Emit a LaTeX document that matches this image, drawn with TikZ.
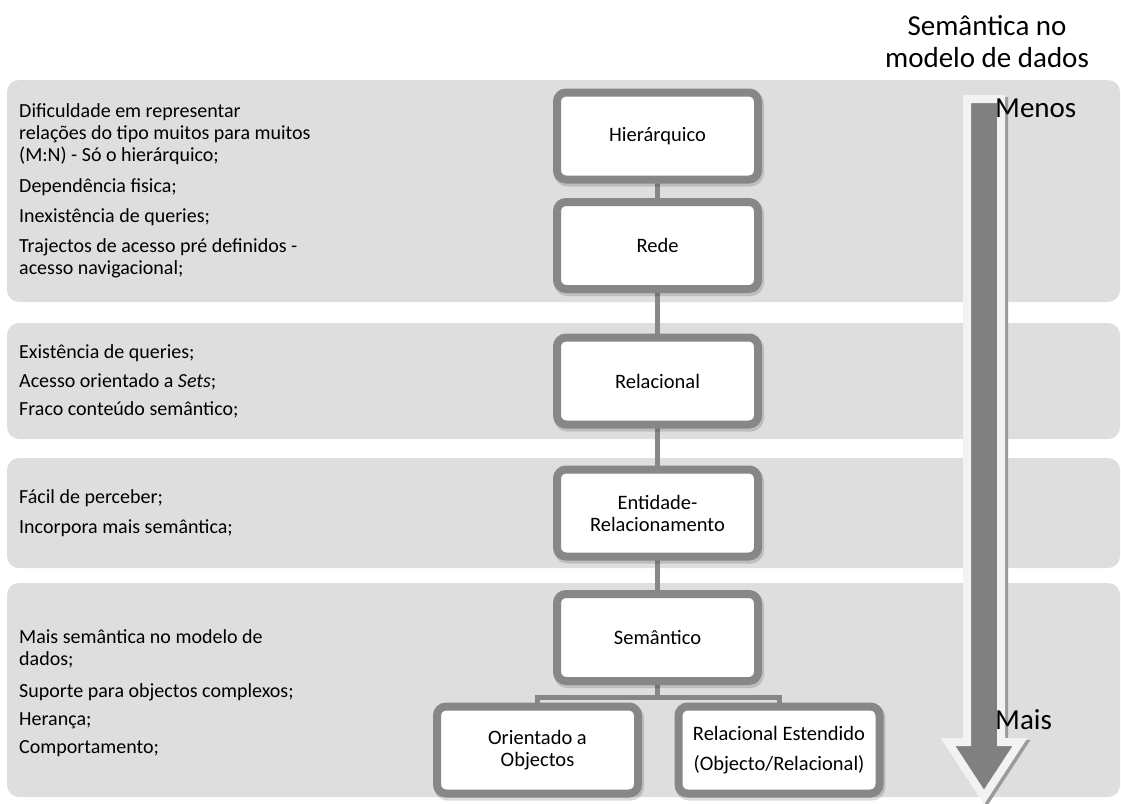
\documentclass[tikz,border=0pt]{standalone}
\usepackage{fontspec}
\setmainfont{Carlito}
\usetikzlibrary{shadows}
\definecolor{bandgray}{HTML}{DEDEDE}
\definecolor{boxgray}{HTML}{878787}
\definecolor{arrowdark}{HTML}{808080}
\definecolor{arrowlight}{HTML}{F2F2F2}
\definecolor{arrowshade}{HTML}{9A9A9A}
\pgfdeclarelayer{bands}
\pgfdeclarelayer{lines}
\pgfsetlayers{bands,lines,main}
\begin{document}
\begin{tikzpicture}[x=1pt,y=-1pt,
  band/.style={fill=bandgray, rounded corners=12pt},
  model/.style={draw=boxgray, line width=8pt, fill=white, rounded corners=9pt,
    minimum width=201pt, minimum height=87pt, align=center, inner sep=2pt,
    font=\fontsize{20.5}{22}\selectfont,
    drop shadow={shadow xshift=1.5pt, shadow yshift=-2.5pt, opacity=0.14, fill=black, draw=black, line width=9pt}},
  conn/.style={draw=boxgray, line width=5pt},
  note/.style={anchor=base west, inner sep=0pt, font=\fontsize{20}{22}\selectfont},
  big/.style={inner sep=0pt, font=\fontsize{29}{32}\selectfont}]
\useasboundingbox (0,0) rectangle (1121,803);

% bands
\begin{pgfonlayer}{bands}
\path[band] (7,80) rectangle (1120,302);
\path[band] (7,323) rectangle (1120,439);
\path[band] (7,458) rectangle (1120,568);
\path[band] (7,583) rectangle (1120,797);
\end{pgfonlayer}

% model boxes
\node[model] (hier) at (657.5,136) {Hierárquico};
\node[model] (rede) at (657.5,245.5) {Rede};
\node[model] (rel) at (657.5,381) {Relacional};
\node[model] (er) at (657.5,513) {Entidade-\\Relacionamento};
\node[model] (sem) at (657.5,637.5) {Semântico};
\node[model] (oo) at (537.5,750) {Orientado a\\Objectos};
\node[model] (ore) at (779,750) {Relacional Estendido\\[8pt](Objecto/Relacional)};

% connectors
\begin{pgfonlayer}{lines}
\draw[conn] (hier.center) -- (rede.center);
\draw[conn] (rede.center) -- (rel.center);
\draw[conn] (rel.center) -- (er.center);
\draw[conn] (er.center) -- (sem.center);
\coordinate (br) at (657.5,697);
\draw[conn] (sem.center) -- (br);
\draw[conn] (oo.center) |- (br) -| (ore.center);
\end{pgfonlayer}

% left texts
\foreach \yy/\tx [count=\i] in {
  117/{Dificuldade em representar},
  139/{relações do tipo muitos para muitos},
  161/{(M:N) - Só o hierárquico;},
  192/{Dependência fisica;},
  222/{Inexistência de queries;},
  252/{Trajectos de acesso pré definidos -},
  274/{acesso navigacional;},
  358/{Existência de queries;},
  387/{Acesso orientado a \textit{Sets};},
  415/{Fraco conteúdo semântico;},
  503/{Fácil de perceber;},
  533/{Incorpora mais semântica;},
  643/{Mais semântica no modelo de},
  665/{dados;},
  697/{Suporte para objectos complexos;},
  725/{Herança;},
  753/{Comportamento;}}
  \node[note] (line\i) at (19,\yy) {\tx};

% big arrow
\draw[draw=arrowshade, fill=arrowshade, line width=8pt, line join=miter, shift={(3,2)}]
  (967,99) -- (1001,99) -- (1001,742) -- (1020,742) -- (984,797) -- (948,742) -- (967,742) -- cycle;
\draw[draw=arrowlight, fill=arrowdark, line width=8pt, line join=miter]
  (967,99) -- (1001,99) -- (1001,742) -- (1020,742) -- (984,797) -- (948,742) -- (967,742) -- cycle;

% titles
\node[big, anchor=base] (title1) at (987,35) {Semântica no};
\node[big, anchor=base] (title2) at (987,67) {modelo de dados};
\node[big, anchor=base west] (menos) at (995,117) {Menos};
\node[big, anchor=base west] (mais) at (995,729) {Mais};
\end{tikzpicture}
\end{document}
